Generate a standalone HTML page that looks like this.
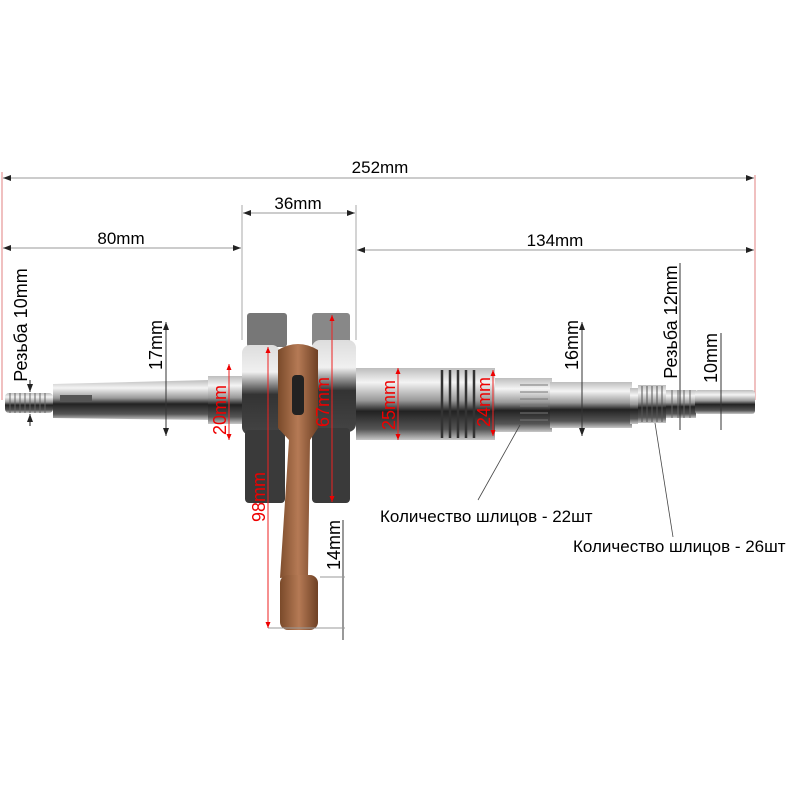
<!DOCTYPE html>
<html><head><meta charset="utf-8"><style>
html,body{margin:0;padding:0;background:#fff}
svg{display:block}
text{font-family:"Liberation Sans",sans-serif}
</style></head><body>
<svg width="800" height="800" viewBox="0 0 800 800" xmlns="http://www.w3.org/2000/svg">
<defs>
<linearGradient id="m" x1="0" y1="0" x2="0" y2="1">
<stop offset="0" stop-color="#bdbdbd"/><stop offset="0.2" stop-color="#f4f4f4"/><stop offset="0.45" stop-color="#9a9a9a"/><stop offset="0.6" stop-color="#222"/><stop offset="0.85" stop-color="#555"/><stop offset="1" stop-color="#c8c8c8"/>
</linearGradient>
<linearGradient id="w" x1="0" y1="0" x2="0" y2="1">
<stop offset="0" stop-color="#ddd"/><stop offset="0.3" stop-color="#f0f0f0"/><stop offset="0.55" stop-color="#333"/><stop offset="1" stop-color="#444"/>
</linearGradient>
<linearGradient id="c" x1="0" y1="0" x2="1" y2="0">
<stop offset="0" stop-color="#7a4a2a"/><stop offset="0.5" stop-color="#b57a55"/><stop offset="1" stop-color="#6e4024"/>
</linearGradient>
<marker id="a" markerWidth="8" markerHeight="6" refX="8" refY="3" orient="auto-start-reverse"><path d="M0,0L8,3L0,6z" fill="#222"/></marker>
<marker id="r" markerWidth="6" markerHeight="5" refX="6" refY="2.5" orient="auto-start-reverse"><path d="M0,0L6,2.5L0,5z" fill="#e00"/></marker>
</defs>

<line x1="2" y1="172" x2="2" y2="400" stroke="#e08080" stroke-width="1"/>
<line x1="755" y1="175" x2="755" y2="400" stroke="#e08080" stroke-width="1"/>
<line x1="242" y1="205" x2="242" y2="340" stroke="#aaa" stroke-width="1"/>
<line x1="356" y1="205" x2="356" y2="340" stroke="#aaa" stroke-width="1"/>

<line x1="3" y1="178" x2="754" y2="178" stroke="#999" marker-start="url(#a)" marker-end="url(#a)"/>
<text x="380" y="173" font-size="17" text-anchor="middle">252mm</text>
<line x1="243" y1="213" x2="355" y2="213" stroke="#999" marker-start="url(#a)" marker-end="url(#a)"/>
<text x="298" y="209" font-size="17" text-anchor="middle">36mm</text>
<line x1="3" y1="248" x2="241" y2="248" stroke="#999" marker-start="url(#a)" marker-end="url(#a)"/>
<text x="121" y="244" font-size="17" text-anchor="middle">80mm</text>
<line x1="357" y1="250" x2="754" y2="250" stroke="#999" marker-start="url(#a)" marker-end="url(#a)"/>
<text x="555" y="246" font-size="17" text-anchor="middle">134mm</text>

<rect x="5" y="393" width="48" height="20" rx="4" fill="url(#m)"/>
<g stroke="#666" stroke-width="1">
<line x1="10" y1="393" x2="10" y2="413"/><line x1="15" y1="393" x2="15" y2="413"/><line x1="20" y1="393" x2="20" y2="413"/><line x1="25" y1="393" x2="25" y2="413"/><line x1="30" y1="393" x2="30" y2="413"/><line x1="35" y1="393" x2="35" y2="413"/><line x1="40" y1="393" x2="40" y2="413"/><line x1="45" y1="393" x2="45" y2="413"/>
</g>
<path d="M53,384 L210,380 L210,420 L53,418 Z" fill="url(#m)"/>
<rect x="60" y="395" width="32" height="7" fill="#555"/>
<rect x="208" y="376" width="36" height="48" fill="url(#m)"/>

<rect x="247" y="313" width="40" height="34" rx="3" fill="#777"/>
<rect x="312" y="313" width="38" height="34" rx="3" fill="#888"/>
<rect x="242" y="345" width="38" height="90" rx="8" fill="url(#w)"/>
<rect x="245" y="430" width="40" height="73" rx="4" fill="#3a3a3a"/>
<rect x="312" y="340" width="44" height="92" rx="8" fill="url(#w)"/>
<rect x="312" y="428" width="38" height="75" rx="4" fill="#3a3a3a"/>

<path d="M278,350 Q298,338 318,350 L318,428 L310,440 L308,575 L280,578 L289,440 L278,428 Z" fill="url(#c)"/>
<rect x="280" y="575" width="38" height="55" rx="8" fill="url(#c)"/>
<rect x="292" y="375" width="12" height="40" rx="4" fill="#222"/>

<rect x="356" y="368" width="80" height="72" fill="url(#m)"/>
<rect x="435" y="368" width="60" height="72" fill="url(#m)"/>
<g stroke="#333" stroke-width="2.5">
<line x1="442" y1="370" x2="442" y2="438"/><line x1="450" y1="370" x2="450" y2="438"/><line x1="458" y1="370" x2="458" y2="438"/><line x1="466" y1="370" x2="466" y2="438"/><line x1="474" y1="370" x2="474" y2="438"/></g>
<rect x="495" y="378" width="57" height="54" fill="url(#m)"/>
<g stroke="#777" stroke-width="1"><line x1="520" y1="385" x2="548" y2="385"/><line x1="520" y1="392" x2="548" y2="392"/><line x1="520" y1="399" x2="548" y2="399"/><line x1="520" y1="406" x2="548" y2="406"/><line x1="520" y1="413" x2="548" y2="413"/><line x1="520" y1="420" x2="548" y2="420"/></g>
<rect x="550" y="382" width="82" height="46" fill="url(#m)"/>
<rect x="630" y="388" width="8" height="36" fill="url(#m)"/>
<rect x="638" y="385" width="28" height="38" fill="url(#m)"/>
<g stroke="#555"><line x1="642" y1="386" x2="642" y2="422"/><line x1="647" y1="386" x2="647" y2="422"/><line x1="652" y1="386" x2="652" y2="422"/><line x1="657" y1="386" x2="657" y2="422"/><line x1="662" y1="386" x2="662" y2="422"/></g>
<rect x="666" y="390" width="30" height="28" fill="url(#m)"/>
<g stroke="#666"><line x1="672" y1="390" x2="672" y2="418"/><line x1="678" y1="390" x2="678" y2="418"/><line x1="684" y1="390" x2="684" y2="418"/><line x1="690" y1="390" x2="690" y2="418"/></g>
<rect x="695" y="390" width="60" height="24" rx="3" fill="url(#m)"/>

<line x1="30" y1="380" x2="30" y2="392" stroke="#222" marker-end="url(#a)"/>
<line x1="30" y1="426" x2="30" y2="414" stroke="#222" marker-end="url(#a)"/>
<text transform="translate(27,325) rotate(-90)" font-size="18" text-anchor="middle">Резьба 10mm</text>
<line x1="166" y1="322" x2="166" y2="436" stroke="#333" marker-start="url(#a)" marker-end="url(#a)"/>
<text transform="translate(162,345) rotate(-90)" font-size="18" text-anchor="middle">17mm</text>
<line x1="582" y1="322" x2="582" y2="436" stroke="#333" marker-start="url(#a)" marker-end="url(#a)"/>
<text transform="translate(578,345) rotate(-90)" font-size="18" text-anchor="middle">16mm</text>
<line x1="680" y1="263" x2="680" y2="430" stroke="#333"/>
<text transform="translate(677,322) rotate(-90)" font-size="18" text-anchor="middle">Резьба 12mm</text>
<line x1="721" y1="333" x2="721" y2="430" stroke="#333"/>
<text transform="translate(717,358) rotate(-90)" font-size="18" text-anchor="middle">10mm</text>
<line x1="343" y1="520" x2="343" y2="640" stroke="#333"/>
<line x1="320" y1="577" x2="345" y2="577" stroke="#999"/>
<line x1="268" y1="628" x2="345" y2="628" stroke="#999"/>
<text transform="translate(340,545) rotate(-90)" font-size="18" text-anchor="middle">14mm</text>

<g stroke="#e22" stroke-width="1">
<line x1="229" y1="364" x2="229" y2="440" marker-start="url(#r)" marker-end="url(#r)"/>
<line x1="268" y1="347" x2="268" y2="628" marker-start="url(#r)" marker-end="url(#r)"/>
<line x1="332" y1="315" x2="332" y2="502" marker-start="url(#r)" marker-end="url(#r)"/>
<line x1="398" y1="368" x2="398" y2="440" marker-start="url(#r)" marker-end="url(#r)"/>
<line x1="493" y1="370" x2="493" y2="436" marker-start="url(#r)" marker-end="url(#r)"/>
</g>
<g fill="#e00" font-size="18">
<text transform="translate(226,410) rotate(-90)" text-anchor="middle">20mm</text>
<text transform="translate(329,402) rotate(-90)" text-anchor="middle">67mm</text>
<text transform="translate(395,405) rotate(-90)" text-anchor="middle">25mm</text>
<text transform="translate(490,402) rotate(-90)" text-anchor="middle">24mm</text>
<text transform="translate(265,497) rotate(-90)" text-anchor="middle">98mm</text>
</g>

<line x1="520" y1="425" x2="478" y2="500" stroke="#444" stroke-width="0.8"/>
<line x1="655" y1="423" x2="673" y2="537" stroke="#444" stroke-width="0.8"/>
<text x="380" y="522" font-size="17">Количество шлицов - 22шт</text>
<text x="573" y="552" font-size="17">Количество шлицов - 26шт</text>
</svg>
</body></html>
